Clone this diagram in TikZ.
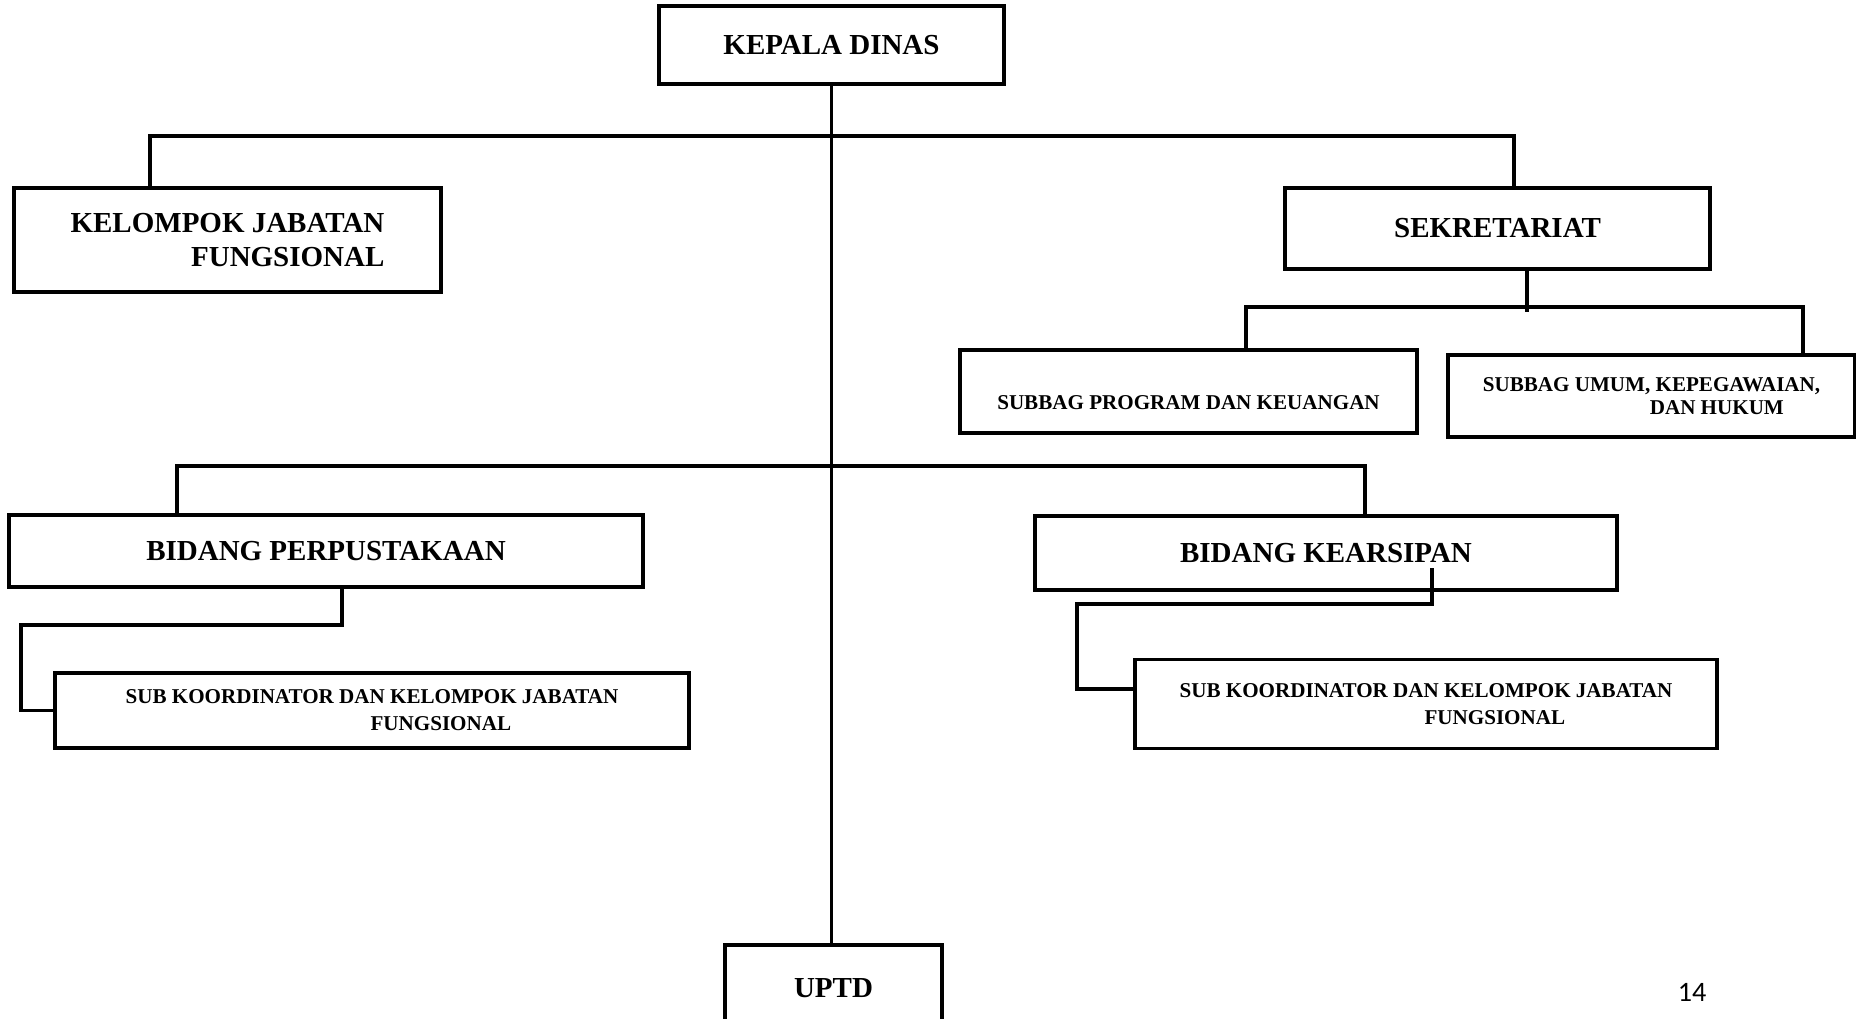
\documentclass[tikz,border=0pt]{standalone}
\usepackage{fontspec}
\setmainfont{Liberation Serif}
\newfontfamily\pagenumfont{Carlito}
\usetikzlibrary{positioning}

\tikzset{
  unitbox/.style={draw, line width=2.2pt, inner sep=0pt, outer sep=0pt},
  bigunit/.style={unitbox, font=\fontsize{16.5}{19}\selectfont\bfseries},
  smallunit/.style={unitbox, font=\fontsize{12}{15.4}\selectfont\bfseries},
  link/.style={line width=2pt},
}

\begin{document}
\begin{tikzpicture}[x=0.02cm, y=-0.02cm]
  \def\subindent{4.9cm}
  \def\umumindent{3.34cm}

  % Page area
  \clip (0,0) rectangle (1856,1018);
  \fill[white] (0,0) rectangle (1856,1018);

  % Draw the units
  \node[bigunit, minimum width=6.90cm, minimum height=1.56cm] (kepala) at (831.5,45) {KEPALA DINAS};
  \node[bigunit, minimum width=8.54cm, minimum height=2.08cm, align=right] (kjf) at (227.5,240) {KELOMPOK JABATAN\\FUNGSIONAL};
  \node[bigunit, minimum width=8.50cm, minimum height=1.62cm] (sek) at (1497.5,228.5) {SEKRETARIAT};
  \node[smallunit, minimum width=9.14cm, minimum height=1.66cm, text height=20.4pt, text depth=0pt] (sbprog) at (1188.5,391.5) {SUBBAG PROGRAM DAN KEUANGAN};
  \node[smallunit, minimum width=8.14cm, minimum height=1.64cm, align=left, font=\fontsize{12}{13}\selectfont\bfseries] (sbumum) at (1651.5,396) {SUBBAG UMUM, KEPEGAWAIAN,\\\hspace*{\umumindent}DAN HUKUM};
  \node[bigunit, minimum width=12.68cm, minimum height=1.44cm] (perpus) at (326,551) {BIDANG PERPUSTAKAAN};
  \node[bigunit, minimum width=11.64cm, minimum height=1.48cm] (arsip) at (1326,553) {BIDANG KEARSIPAN};
  \node[smallunit, minimum width=12.68cm, minimum height=1.50cm, align=left] (skl) at (372,710.5) {SUB KOORDINATOR DAN KELOMPOK JABATAN\\\hspace*{\subindent}FUNGSIONAL};
  \node[smallunit, minimum width=11.64cm, minimum height=1.78cm, align=left] (skr) at (1426,704) {SUB KOORDINATOR DAN KELOMPOK JABATAN\\\hspace*{\subindent}FUNGSIONAL};
  \node[bigunit, minimum width=4.34cm, minimum height=1.72cm] (uptd) at (833.5,988) {UPTD};

  % Main line down to UPTD
  \draw[link] (kepala.south) -- (kepala.south |- uptd.north);

  % Top bar
  \coordinate (topL) at (150,136);
  \coordinate (topR) at (1514,136);
  \draw[link] (topL |- kjf.north) -- (topL) -- (topR) -- (topR |- sek.north);

  % Sekretariat to subbag
  \coordinate (sekdrop) at (1527,312);
  \coordinate (sekL) at (1246,307);
  \coordinate (sekR) at (1803,307);
  \draw[link] (sek.south -| sekdrop) -- (sekdrop);
  \draw[link] (sekL |- sbprog.north) -- (sekL) -- (sekR) -- (sekR |- sbumum.north);

  % Bidang bar
  \coordinate (midL) at (177,466);
  \coordinate (midR) at (1365,466);
  \draw[link] (midL |- perpus.north) -- (midL) -- (midR) -- (midR |- arsip.north);

  % Perpustakaan to sub koordinator
  \coordinate (pknee) at (342,625);
  \coordinate (pcorner) at (21,625);
  \draw[link] (perpus.south -| pknee) -- (pknee) -- (pcorner) |- (skl.west);

  % Kearsipan to sub koordinator
  \coordinate (ktop) at (1432,568);
  \coordinate (kknee) at (1432,604);
  \coordinate (kcorner) at (1077,604);
  \coordinate (kfoot) at (1077,689);
  \draw[link] (ktop) -- (kknee) -- (kcorner) -- (kfoot) -- (kfoot -| skr.west);

  % Page number
  \node[font=\pagenumfont\fontsize{16}{19}\selectfont] (pagenum) at (1692,992) {14};
\end{tikzpicture}
\end{document}
